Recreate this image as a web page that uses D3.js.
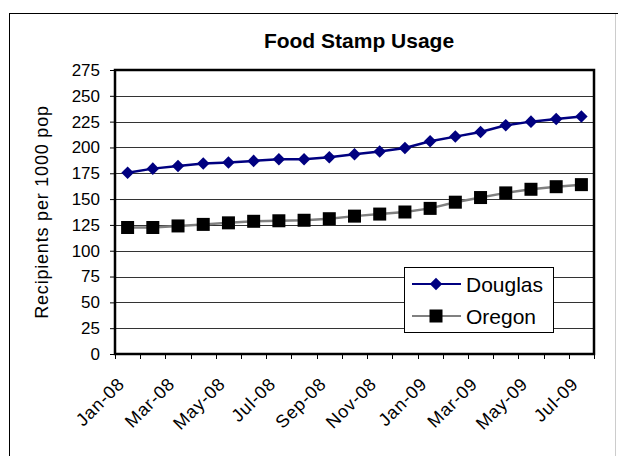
<!DOCTYPE html>
<html>
<head>
<meta charset="utf-8">
<script src="https://cdn.jsdelivr.net/npm/d3@7"></script>
<style>
  body { margin: 0; background: #fff; }
  text { font-family: "Liberation Sans", Arial, sans-serif; fill: #000; }
</style>
</head>
<body>
<svg width="618" height="456"></svg>
<script>
// values
var months = ["Jan-08","Feb-08","Mar-08","Apr-08","May-08","Jun-08","Jul-08","Aug-08","Sep-08","Oct-08",
              "Nov-08","Dec-08","Jan-09","Feb-09","Mar-09","Apr-09","May-09","Jun-09","Jul-09"];
var douglas = [175.5, 179.5, 182, 184.5, 185.5, 187, 188.5, 188.5, 190.5, 193.5,
               196, 199.5, 206, 210.5, 215, 221.5, 225, 227.5, 230];
var oregon = [122.5, 122.5, 124, 125.5, 127, 128.5, 129, 129.5, 131, 133.5,
              135.5, 137.5, 141, 147, 151.5, 156, 159.5, 162, 164];
var yTicks = [0, 25, 50, 75, 100, 125, 150, 175, 200, 225, 250, 275];

var svg = d3.select("svg"),
    margin = {top: 70, right: 24, bottom: 102, left: 115},
    width = +svg.attr("width") - margin.left - margin.right,
    height = +svg.attr("height") - margin.top - margin.bottom;

// chart frame
svg.append("line").attr("x1", 9.5).attr("x2", 9.5).attr("y1", 13.5).attr("y2", 456)
    .attr("stroke", "#000");
svg.append("line").attr("x1", 9).attr("x2", 618).attr("y1", 13.5).attr("y2", 13.5)
    .attr("stroke", "#000");
svg.append("line").attr("x1", 615.5).attr("x2", 615.5).attr("y1", 14).attr("y2", 456)
    .attr("stroke", "#ccc");

svg.append("text")
    .attr("x", 359).attr("y", 48)
    .attr("text-anchor", "middle")
    .style("font-size", "21px").style("font-weight", "bold")
    .text("Food Stamp Usage");

var g = svg.append("g")
    .attr("transform", "translate(" + margin.left + "," + margin.top + ")");

var x = d3.scaleBand().domain(months).range([0, width]).padding(0),
    y = d3.scaleLinear().domain([0, 275]).range([height, 0]);

// gridlines
g.selectAll(".grid")
  .data(yTicks)
  .enter().append("line")
    .attr("class", "grid")
    .attr("x1", 0).attr("x2", width)
    .attr("y1", function(d) { return Math.round(y(d)) + 0.5; })
    .attr("y2", function(d) { return Math.round(y(d)) + 0.5; })
    .attr("stroke", "#333");

// y axis
var yAxis = g.append("g")
    .call(d3.axisLeft(y).tickValues(yTicks).tickSize(5).tickPadding(10));
yAxis.select(".domain").remove();
yAxis.selectAll("text").style("font-size", "17px").attr("font-family", null);

// x axis ticks at category edges
var edges = months.map(function(m) { return x(m); }).concat([width]);
g.selectAll(".xtick")
  .data(edges)
  .enter().append("line")
    .attr("x1", function(d) { return Math.round(d) + 0.5; })
    .attr("x2", function(d) { return Math.round(d) + 0.5; })
    .attr("y1", height).attr("y2", height + 5)
    .attr("stroke", "#000");

g.selectAll(".xlabel")
  .data(months.filter(function(m, i) { return i % 2 === 0; }))
  .enter().append("text")
    .attr("text-anchor", "end")
    .attr("transform", function(d) {
      return "translate(" + (x(d) + x.bandwidth() / 2 - 2) + "," + (height + 31) + ") rotate(-45)";
    })
    .style("font-size", "18px")
    .style("letter-spacing", "0.8px")
    .text(function(d) { return d; });

// plot border
g.append("rect")
    .attr("x", 0).attr("y", 0)
    .attr("width", width).attr("height", height)
    .attr("fill", "none")
    .attr("stroke", "#000")
    .attr("stroke-width", 2.5);

svg.append("text")
    .attr("transform", "translate(48," + (margin.top + height / 2) + ") rotate(-90)")
    .attr("text-anchor", "middle")
    .style("font-size", "18px")
    .style("letter-spacing", "0.8px")
    .text("Recipients per 1000 pop");

var cx = function(d, i) { return x(months[i]) + x.bandwidth() / 2; };
var line = d3.line().x(cx).y(function(d) { return y(d); });

var diamond = d3.symbol().type(d3.symbolDiamond2).size(100);

// Oregon
g.append("path").datum(oregon)
    .attr("d", line).attr("fill", "none")
    .attr("stroke", "#808080").attr("stroke-width", 2.5);
g.selectAll(".sq")
  .data(oregon)
  .enter().append("rect")
    .attr("x", function(d, i) { return cx(d, i) - 6.5; })
    .attr("y", function(d) { return y(d) - 6.5; })
    .attr("width", 13).attr("height", 13)
    .attr("fill", "#000");

// Douglas
g.append("path").datum(douglas)
    .attr("d", line).attr("fill", "none")
    .attr("stroke", "#000080").attr("stroke-width", 2.5);
g.selectAll(".dm")
  .data(douglas)
  .enter().append("path")
    .attr("d", diamond)
    .attr("transform", function(d, i) { return "translate(" + cx(d, i) + "," + y(d) + ")"; })
    .attr("fill", "#000080");

// legend
var lg = svg.append("g").attr("transform", "translate(404,267)");
lg.append("rect")
    .attr("x", 0.5).attr("y", 0.5).attr("width", 149).attr("height", 65)
    .attr("fill", "#fff").attr("stroke", "#000");
var items = [
  {name: "Douglas", color: "#000080", dy: 17},
  {name: "Oregon", color: "#808080", dy: 49}
];
items.forEach(function(it, i) {
  lg.append("line")
      .attr("x1", 8).attr("x2", 57).attr("y1", it.dy).attr("y2", it.dy)
      .attr("stroke", it.color).attr("stroke-width", 2);
  if (i === 0) {
    lg.append("path").attr("d", diamond)
        .attr("transform", "translate(32," + it.dy + ")")
        .attr("fill", "#000080");
  } else {
    lg.append("rect").attr("x", 25.5).attr("y", it.dy - 6.5).attr("width", 13).attr("height", 13)
        .attr("fill", "#000");
  }
  lg.append("text")
      .attr("x", 62).attr("y", it.dy + 7.5)
      .style("font-size", "21px")
      .text(it.name);
});
</script>
</body>
</html>
